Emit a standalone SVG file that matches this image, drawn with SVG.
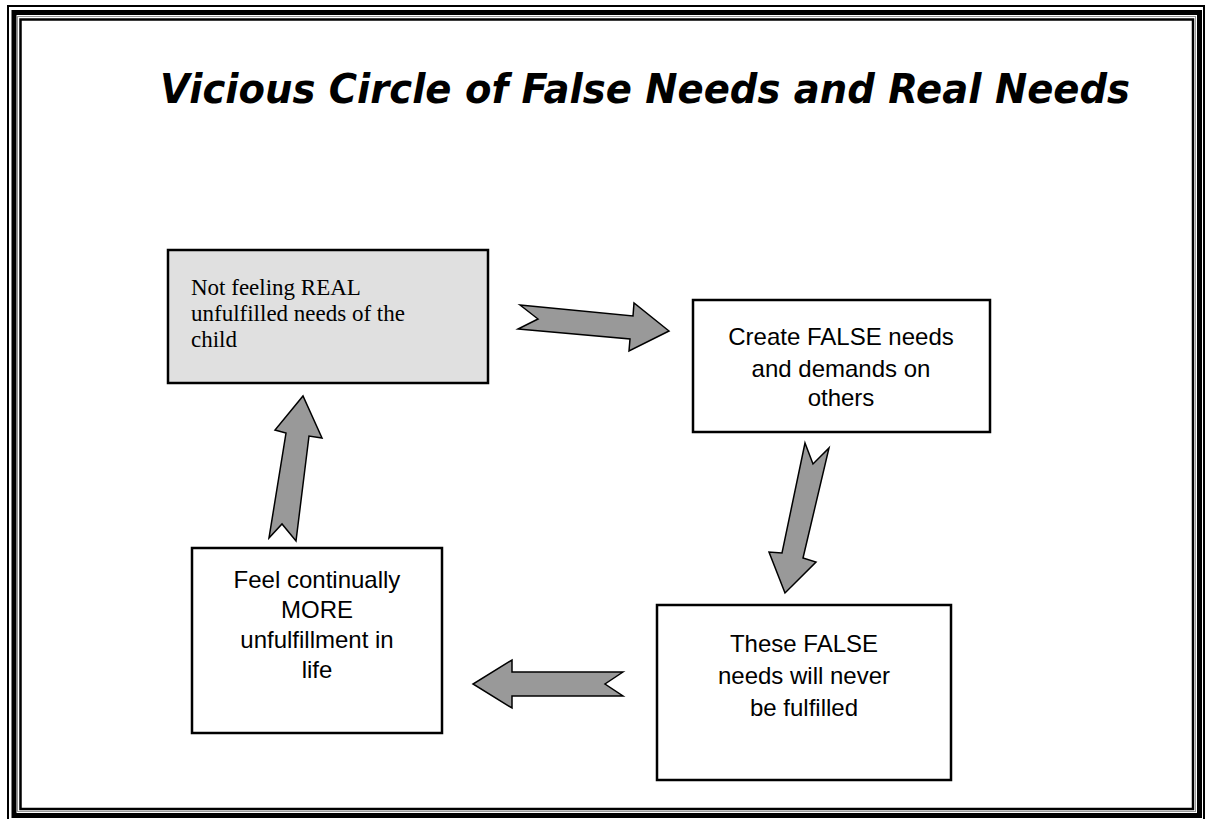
<svg xmlns="http://www.w3.org/2000/svg" width="1206" height="819" viewBox="0 0 1206 819">
<style>
.box{fill:#ffffff;stroke:#000;stroke-width:2.5}
.gray{fill:#e0e0e0}
.arr{fill:#999999;stroke:#000;stroke-width:1.5;stroke-linejoin:miter}
.sans{font-family:"Liberation Sans",Arial,sans-serif;font-size:24px;fill:#000;text-anchor:middle}
.serif{font-family:"Liberation Serif","Times New Roman",serif;font-size:23px;fill:#000}
.title{font-family:"DejaVu Sans",Verdana,sans-serif;font-size:40px;font-weight:bold;font-style:italic;fill:#000;text-anchor:middle}
</style>
<rect width="1206" height="819" fill="#fff"/>
<g id="border" fill="none">
<rect x="8" y="6" width="1196" height="820" stroke="#000" stroke-width="2"/>
<rect x="14" y="12.5" width="1185.5" height="803" stroke="#000" stroke-width="5"/>
<rect x="17.5" y="16.5" width="1178" height="795" stroke="#999" stroke-width="1"/>
<rect x="20.5" y="19.5" width="1172.5" height="789.5" stroke="#000" stroke-width="2.5"/>
</g>
<g id="title"><text class="title" x="645" y="103" textLength="970" lengthAdjust="spacingAndGlyphs">Vicious Circle of False Needs and Real Needs</text></g>
<g id="connectors">
<polygon class="arr" points="520,305 538,319 518,329 630,339 629,351 669,331 634,303 633,316"/>
<polygon class="arr" points="805,443 813,464 829,448 803,558 816,562 785,593 769,552 782,553"/>
<polygon class="arr" points="623,672 605,684 623,696 512,696 512,708 473,684 512,660 512,672"/>
<polygon class="arr" points="269,538 282,524 296,541 309,436 322,438 303,396 275,430 286,433"/>
</g>
<g id="node1">
<rect class="box gray" x="168" y="250" width="320" height="133"/>
<text class="serif" x="191" y="295">Not feeling REAL</text>
<text class="serif" x="191" y="321">unfulfilled needs of the</text>
<text class="serif" x="191" y="347">child</text>
</g>
<g id="node2">
<rect class="box" x="693" y="300" width="297" height="132"/>
<text class="sans" x="841" y="345">Create FALSE needs</text>
<text class="sans" x="841" y="377">and demands on</text>
<text class="sans" x="841" y="406">others</text>
</g>
<g id="node3">
<rect class="box" x="657" y="605" width="294" height="175"/>
<text class="sans" x="804" y="652">These FALSE</text>
<text class="sans" x="804" y="684">needs will never</text>
<text class="sans" x="804" y="716">be fulfilled</text>
</g>
<g id="node4">
<rect class="box" x="192" y="548" width="250" height="185"/>
<text class="sans" x="317" y="588">Feel continually</text>
<text class="sans" x="317" y="618">MORE</text>
<text class="sans" x="317" y="648">unfulfillment in</text>
<text class="sans" x="317" y="678">life</text>
</g>
</svg>
